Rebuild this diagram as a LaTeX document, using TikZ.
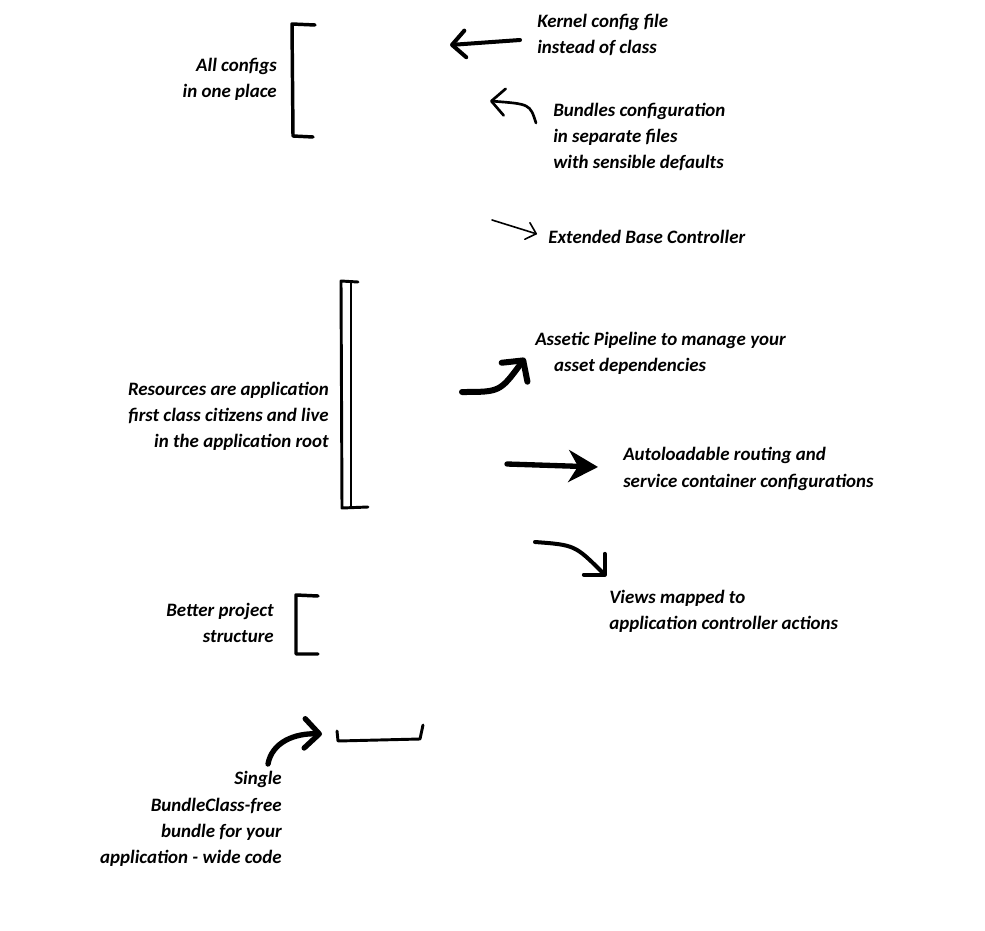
\documentclass[tikz,border=0pt]{standalone}
\usepackage{fontspec}
\setmainfont{Carlito}
\usetikzlibrary{arrows.meta}
\tikzset{
  rnote/.style={anchor=west,align=left,inner sep=0pt,font=\bfseries\itshape\fontsize{14.2}{19.6}\selectfont},
  lnote/.style={anchor=east,align=right,inner sep=0pt,font=\bfseries\itshape\fontsize{14.2}{19.6}\selectfont},
  bracket/.style={line width=2.6pt,line cap=round,line join=round},
  barb/.style={line cap=round,-{Straight Barb[length=10pt,width=20pt,round]}}
}
\begin{document}
\begin{tikzpicture}[x=0.75pt,y=-0.75pt]
\useasboundingbox (0,0) rectangle (985,931);
            \draw (277,79) node[lnote] (allconf) {All configs\\in one place};
            \draw (537,35) node[rnote] (kernel) {Kernel config file\\instead of class};
            \draw (553,137) node[rnote] (bundles) {Bundles configuration\\in separate files\\with sensible defaults};
            \draw (548,237) node[rnote] (basectrl) {Extended Base Controller};
            \draw (329,416) node[lnote] (resources) {Resources are application\\first class citizens and live\\in the application root};
            \draw (535,353) node[rnote] (assetic) {Assetic Pipeline to manage your\\\phantom{As}asset dependencies};
            \draw (623,469) node[rnote] (autoload) {Autoloadable routing and\\service container configurations};
            \draw (609,611) node[rnote] (views) {Views mapped to\\application controller actions};
            \draw (274,623) node[lnote] (structure) {Better project\\structure};
            \draw (282,819) node[lnote] (single) {Single\\BundleClass-free\\bundle for your\\application - wide code};

            \coordinate (k1) at (520,40);   \coordinate (k2) at (450,45);
            \coordinate (b1) at (536,123);  \coordinate (b2) at (490,101);
            \coordinate (e1) at (492,220);  \coordinate (e2) at (537,234);
            \coordinate (a1) at (462,392);  \coordinate (a2) at (525,358);
            \coordinate (r1) at (507,464);  \coordinate (r2) at (598,467);
            \coordinate (v1) at (535,542);  \coordinate (v2) at (606,576);
            \coordinate (s1) at (268,764);  \coordinate (s2) at (322,734);

            \draw[bracket] (315,25) -- (292,24) -- (293,136) -- (313,137);
            \draw[bracket,line width=2.2pt] (358,282) -- (341,281) -- (342,508) -- (368,507);
            \draw[bracket,line width=2.2pt] (351,283) -- (351,506);
            \draw[bracket] (318,596) -- (296,595) -- (296,654) -- (318,654);
            \draw[bracket,line width=2.2pt] (337,731) -- (338,741) -- (420,739) -- (423,725);

            \draw[barb,line width=3pt] (k1)--(k2);
            \draw[barb,line width=2pt] (b1) .. controls (530,104) .. (b2);
            \draw[line width=1.2pt,line cap=round,-{Straight Barb[length=7pt,width=13pt,round]}] (e1)--(e2);
            \draw[line width=4.5pt,line cap=round,-{Straight Barb[length=11pt,width=24pt,round]}] (a1) .. controls (500,392) .. (a2);
            \draw[line width=4pt,line cap=round,-{Stealth[length=22pt,width=24pt,inset=7pt]}] (r1)--(r2);
            \draw[line width=3pt,line cap=round,-{Straight Barb[length=11pt,width=22pt,round]}] (v1) .. controls (575,545) .. (v2);
            \draw[line width=4pt,line cap=round,-{Straight Barb[length=11pt,width=22pt,round]}] (s1) .. controls (272,742) and (295,733) .. (s2);
\end{tikzpicture}
\end{document}
